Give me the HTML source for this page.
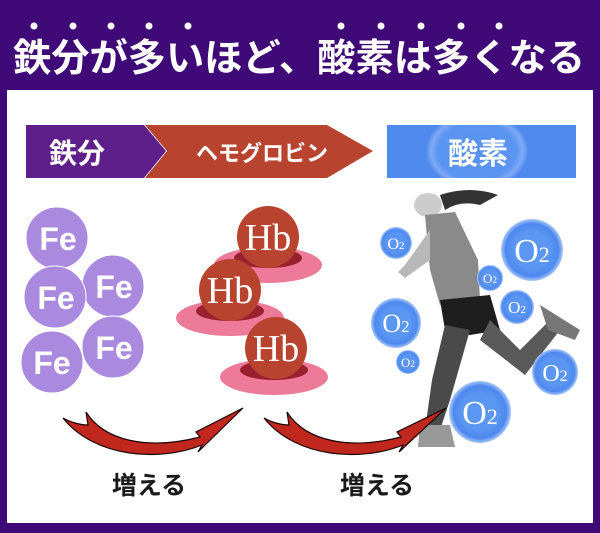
<!DOCTYPE html>
<html><head><meta charset="utf-8"><style>
body{margin:0;width:600px;height:533px;overflow:hidden;background:#3f0a78}
svg{display:block}
</style></head><body>
<svg width="600" height="533" viewBox="0 0 600 533" xmlns="http://www.w3.org/2000/svg">
<defs>
<radialGradient id="o2" cx="50%" cy="50%" r="50%">
<stop offset="0.6" stop-color="#5b96f2"/><stop offset="0.85" stop-color="#4d88ee"/><stop offset="1" stop-color="#a9c8f8"/>
</radialGradient>
<radialGradient id="bl" cx="50%" cy="50%" r="50%">
<stop offset="0" stop-color="#5a93f2"/><stop offset="0.7" stop-color="#5b95f2"/><stop offset="0.82" stop-color="#7fa9f4"/><stop offset="0.92" stop-color="#5088ee"/><stop offset="1" stop-color="#4f8aee"/>
</radialGradient>
</defs>
<rect x="0" y="0" width="600" height="533" fill="#3f0a78"/>
<g fill="#fff">
<circle cx="34" cy="26" r="3.5"/><circle cx="73" cy="26" r="3.5"/><circle cx="111" cy="26" r="3.5"/><circle cx="149" cy="26" r="3.5"/><circle cx="188" cy="26" r="3.5"/>
<circle cx="341" cy="26" r="3.5"/><circle cx="381" cy="26" r="3.5"/><circle cx="421" cy="26" r="3.5"/><circle cx="461" cy="26" r="3.5"/><circle cx="499" cy="26" r="3.5"/>
</g>
<text x="299" y="71" text-anchor="middle" font-family="'Liberation Sans','Noto Sans CJK JP',sans-serif" font-weight="bold" font-size="38" fill="#fff" textLength="572" lengthAdjust="spacingAndGlyphs">鉄分が多いほど、酸素は多くなる</text>
<rect x="7" y="90" width="586" height="433" fill="#fff"/>
<polygon points="26,125 144,125 166,151 144,178 26,178" fill="#5e1f8a"/>
<polygon points="145,125 327,125 373,151 327,178 145,178 167,151" fill="#b84430"/>
<text x="77" y="163" text-anchor="middle" font-family="'Liberation Sans','Noto Sans CJK JP',sans-serif" font-weight="bold" font-size="28" fill="#fff">鉄分</text>
<text x="262" y="161" text-anchor="middle" font-family="'Liberation Sans','Noto Sans CJK JP',sans-serif" font-weight="bold" font-size="22" fill="#fff">ヘモグロビン</text>
<rect x="387" y="125" width="189" height="53" fill="#4f8aee"/>
<ellipse cx="477" cy="151" rx="56" ry="42" fill="url(#bl)"/>
<rect x="387" y="90" width="189" height="35" fill="#fff"/>
<rect x="387" y="178" width="189" height="14" fill="#fff"/>
<text x="478" y="164" text-anchor="middle" font-family="'Liberation Sans','Noto Sans CJK JP',sans-serif" font-weight="bold" font-size="30" fill="#fff">酸素</text>
<g fill="#a98ade" stroke="#fff" stroke-width="1">
<circle cx="57" cy="238" r="31"/><circle cx="113" cy="286" r="31"/><circle cx="55" cy="297" r="31"/><circle cx="113" cy="347" r="31"/><circle cx="52" cy="362" r="31"/>
</g>
<g font-family="'Liberation Sans',sans-serif" font-weight="bold" font-size="32" fill="#fff" text-anchor="middle">
<text x="58" y="250">Fe</text><text x="114" y="298">Fe</text><text x="56" y="309">Fe</text><text x="114" y="359">Fe</text><text x="52" y="374">Fe</text>
</g>
<g font-family="'Liberation Serif',serif" font-size="38" fill="#fff" text-anchor="middle">
<ellipse cx="268" cy="265" rx="54" ry="18" fill="#ec7a98"/>
<ellipse cx="268" cy="258" rx="34" ry="10" fill="#9a2030"/>
<circle cx="268" cy="237" r="31" fill="#b84430"/>
<text x="268" y="250">Hb</text>
<ellipse cx="230" cy="318" rx="54" ry="18" fill="#ec7a98"/>
<ellipse cx="230" cy="311" rx="34" ry="10" fill="#9a2030"/>
<circle cx="230" cy="290" r="31" fill="#b84430"/>
<text x="230" y="303">Hb</text>
<ellipse cx="274" cy="377" rx="54" ry="18" fill="#ec7a98"/>
<ellipse cx="274" cy="370" rx="34" ry="10" fill="#9a2030"/>
<circle cx="276" cy="348" r="31" fill="#b84430"/>
<text x="276" y="361">Hb</text>
</g>
<g>
<ellipse cx="428" cy="205" rx="14" ry="12" fill="#ccc"/>
<path d="M440,195 Q470,185 498,195 L480,205 Q460,200 445,210 Z" fill="#333"/>
<path d="M425,215 L455,212 L478,260 L480,300 L440,305 L430,270 Z" fill="#8a8a8a"/>
<path d="M430,230 L405,265 L398,272 L405,278 L430,260 Z" fill="#b8b8b8"/>
<path d="M440,300 L490,295 L500,330 L470,335 L445,330 Z" fill="#1e1e1e"/>
<path d="M490,320 L520,350 L550,320 L560,330 L525,375 L480,340 Z" fill="#5a5a5a"/>
<path d="M540,305 L580,330 L575,340 L548,330 Z" fill="#777"/>
<path d="M445,325 L470,330 L450,400 L440,430 L425,430 L432,380 Z" fill="#4a4a4a"/>
<path d="M420,425 L450,425 L455,447 L418,447 Z" fill="#999"/>
</g>
<g font-family="'Liberation Serif',serif" fill="#fff" text-anchor="middle">
<circle cx="396" cy="243" r="16" fill="url(#o2)"/><text x="396" y="249" font-size="16">O<tspan font-size="11">2</tspan></text>
<circle cx="532" cy="250" r="31" fill="url(#o2)"/><text x="532" y="262" font-size="34">O<tspan font-size="22">2</tspan></text>
<circle cx="490" cy="278" r="13" fill="url(#o2)"/><text x="490" y="283" font-size="13">O<tspan font-size="9">2</tspan></text>
<circle cx="396" cy="323" r="25" fill="url(#o2)"/><text x="396" y="332" font-size="26">O<tspan font-size="17">2</tspan></text>
<circle cx="517" cy="307" r="17" fill="url(#o2)"/><text x="517" y="313" font-size="17">O<tspan font-size="11">2</tspan></text>
<circle cx="408" cy="362" r="12" fill="url(#o2)"/><text x="408" y="367" font-size="13">O<tspan font-size="9">2</tspan></text>
<circle cx="555" cy="372" r="23" fill="url(#o2)"/><text x="555" y="381" font-size="24">O<tspan font-size="16">2</tspan></text>
<circle cx="480" cy="412" r="31" fill="url(#o2)"/><text x="480" y="424" font-size="34">O<tspan font-size="22">2</tspan></text>
</g>
<g fill="#c0281e" stroke="#1a0505" stroke-width="1.2" stroke-linejoin="miter">
<path d="M63,418 C95,458 160,462 202,445 L198,452 L243,408 L196,432 L200,437 C150,450 105,442 86,412 L88,425 C80,425 70,422 63,418 Z"/>
<path d="M264,418 C296,458 361,462 403,445 L399,452 L446,408 L397,432 L401,437 C351,450 306,442 287,412 L289,425 C281,425 271,422 264,418 Z"/>
</g>
<g font-family="'Liberation Sans','Noto Sans CJK JP',sans-serif" font-weight="bold" font-size="25" fill="#1a1a1a" text-anchor="middle">
<text x="149" y="494">増える</text><text x="377" y="494">増える</text>
</g>
</svg>
</body></html>
